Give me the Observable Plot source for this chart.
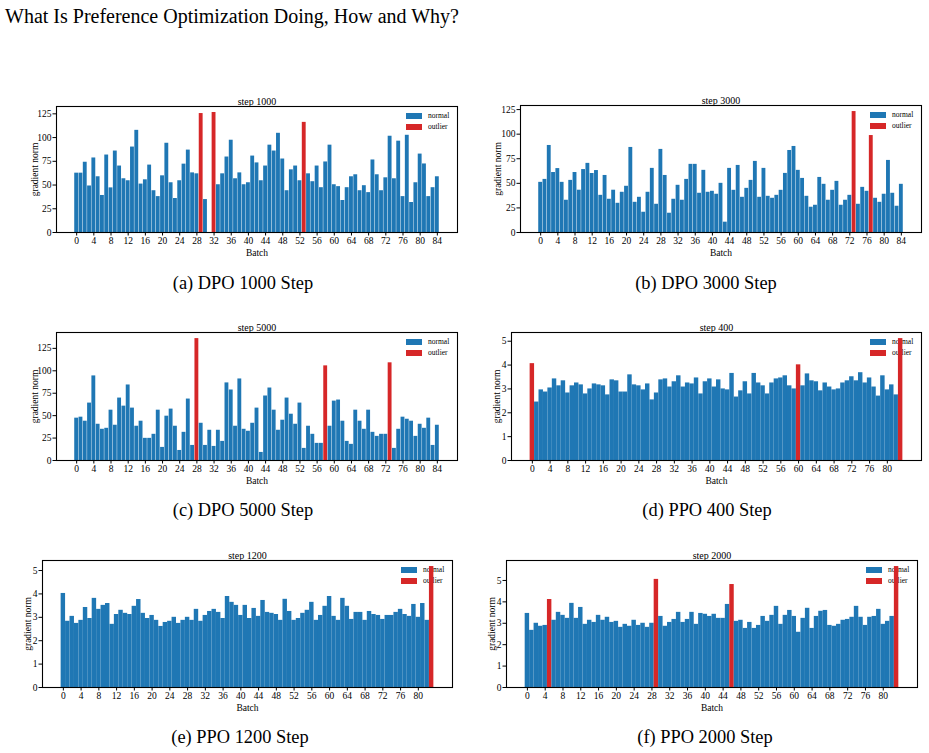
<!DOCTYPE html>
<html><head><meta charset="utf-8">
<script src="https://cdn.jsdelivr.net/npm/d3@7"></script>
<script src="https://cdn.jsdelivr.net/npm/@observablehq/plot@0.6"></script>
<style>
html,body{margin:0;padding:0;background:#fff;}
#root{position:relative;width:929px;height:753px;font-family:"Liberation Serif","Times New Roman",serif;color:#000;overflow:hidden;}
.abs{position:absolute;white-space:nowrap;line-height:1;}
.ctr{transform:translate(-50%,-50%);}
.patch{position:absolute;width:16px;height:6px;}
.legtxt{position:absolute;font-size:7.5px;line-height:1;transform:translateY(-50%);white-space:nowrap;}
</style></head>
<body><div id="root"></div>
<script>
// ---------- data ----------
const pageTitle = "What Is Preference Optimization Doing, How and Why?";
const seriesNames = ["normal", "outlier"];
const seriesColors = ["#1f77b4", "#d62728"];
const dpoXTicks = [0,4,8,12,16,20,24,28,32,36,40,44,48,52,56,60,64,68,72,76,80,84];
const ppoXTicks = [0,4,8,12,16,20,24,28,32,36,40,44,48,52,56,60,64,68,72,76,80];
const dpoYTicks = [0,25,50,75,100,125];
const ppoYTicks = [0,1,2,3,4,5];

const dpo1000 = [62.5,62.5,74,49,78.5,58.7,39,81.6,47,85.8,70,56.6,54.5,90,107.6,51,55.5,71,44,37.8,
  59.7,94,52.4,35.8,54.5,72,86.8,62.8,61.8,125.3,34.7,0,126.4,50.3,61.8,79.5,97.2,56.6,62.8,50.3,
  52.4,80.5,73.3,54.5,70,92,85.8,104.5,77.4,44,66,70,54.5,116,61.8,53.5,70,47.2,74.3,92,
  50.3,48.3,33.7,47.2,58.7,60.8,44,49.3,42,76.4,60.8,44,57.6,101.4,56.6,96.2,37.8,102.4,31.6,52.4,
  82.6,72.2,37.8,47.2,58.7];
const dpo1000Outliers = [29,32,53];

const dpo3000 = [51,54,88.5,61,65,51,32.8,53,61,43,64,70.3,60,63,37.8,58,33.8,43,29.7,40.9,
  47,86.5,30.7,35.8,20.6,40.9,65.2,28.7,84.5,58,19.6,33.8,48,32.8,54,69.3,69.3,39.9,63.2,40.9,
  41.9,38.9,50,10.5,65.2,42.9,68.2,35.8,44.9,53,72.3,35.8,65.2,36.8,34.8,37.8,42.9,60.1,83.4,87.5,
  63.2,55,36.8,25.7,27.7,56,49,32.8,42.9,52,27.7,32.8,37.8,123,28.7,45.9,41.9,98.6,34.8,30.7,
  38.9,73.3,39.9,26.7,49];
const dpo3000Outliers = [73,77];

const dpo5000 = [47.2,48.3,43.8,64,94.3,40.4,34.8,35.9,56.1,39.3,69.6,60.6,84.2,58.4,38.2,43.8,24.7,24.7,29.2,56.1,
  14.6,49.4,57.3,38.2,11.2,31.4,68.5,16.8,135.9,41.5,16.8,33.7,15.7,33.7,21.3,86.5,78.6,38.2,90.9,34.8,
  32.6,41.5,58.4,9,71.9,80.8,56.1,33.7,44.9,69.6,51.6,40.4,64,13.5,38.2,29.2,19.1,19.1,105.5,38.2,
  66.2,67.4,43.8,21.3,18,56.1,43.8,34.8,56.1,31.4,26.9,29.2,29.2,108.9,13.5,34.8,48.3,46,43.8,26.9,
  40.4,35.9,47.2,16.8,39.3];
const dpo5000Outliers = [28,58,73];

const ppo400 = [4.06,2.45,2.96,2.87,3.04,3.42,3.13,3.34,2.83,3.13,3.25,3.17,2.79,3.0,3.21,3.17,3.13,2.75,3.38,3.34,
  2.87,2.87,3.59,3.17,3.13,2.96,3.21,2.54,2.83,3.38,3.42,3.08,3.30,3.55,3.08,3.25,3.21,3.46,2.79,3.30,
  3.42,3.08,3.38,3.0,2.96,3.65,2.66,2.92,3.30,2.79,3.65,3.25,3.13,2.79,3.25,3.42,3.46,3.55,3.13,3.0,
  4.01,3.13,3.63,3.34,3.30,2.92,3.25,3.08,2.96,3.0,3.25,3.34,3.51,3.34,3.68,3.25,3.46,3.08,2.70,3.55,
  2.96,3.17,2.75,5.11];
const ppo400Outliers = [0,60,83];

const ppo1200 = [4.02,2.83,3.04,2.74,2.87,3.42,2.95,3.81,3.34,3.51,3.59,2.70,3.12,3.30,3.17,3.12,3.47,3.76,3.17,2.95,
  3.08,2.87,2.61,2.78,2.83,3.0,2.74,2.87,3.0,2.87,3.34,2.83,3.08,3.25,3.34,3.21,2.95,3.89,3.64,3.51,
  3.08,3.51,2.95,3.38,3.04,3.72,3.21,3.17,3.12,2.87,3.77,3.25,2.87,2.95,3.17,3.30,3.64,2.87,3.08,3.47,
  3.89,3.04,2.87,3.81,3.47,2.91,3.21,3.21,2.87,3.25,3.12,3.08,2.91,3.08,3.08,3.21,3.34,3.12,3.04,3.55,
  3.0,3.59,2.87,5.17];
const ppo1200Outliers = [83];

const ppo2000 = [3.46,2.67,3.0,2.86,2.90,4.11,3.14,3.51,3.37,3.23,3.93,3.23,3.74,2.95,3.14,3.04,3.37,3.14,3.28,3.04,
  3.09,2.81,2.95,2.86,3.14,2.90,3.0,2.81,3.0,5.05,3.32,2.86,3.04,3.18,3.51,3.04,3.18,3.51,2.95,3.46,
  3.42,3.32,3.42,3.23,3.23,3.88,4.81,3.09,3.14,2.76,3.04,2.76,2.90,3.32,3.09,3.37,3.79,2.95,3.37,3.60,
  3.32,2.58,3.23,3.70,2.76,3.32,3.56,3.60,2.90,2.86,2.95,3.14,3.18,3.28,3.79,3.28,2.90,3.28,3.32,3.65,
  2.95,3.09,3.32,5.65];
const ppo2000Outliers = [5,29,46,83];

// ---------- layout ----------
const panels = [
  {title:"step 1000", caption:"(a) DPO 1000 Step", values:dpo1000, outliers:dpo1000Outliers, xTicks:dpoXTicks, yTicks:dpoYTicks, barWidth:0.9, frame:[56,106,457,232], ylabDx:-22, cap:[243,283]},
  {title:"step 3000", caption:"(b) DPO 3000 Step", values:dpo3000, outliers:dpo3000Outliers, xTicks:dpoXTicks, yTicks:dpoYTicks, barWidth:0.9, frame:[520,105,921,232], ylabDx:-23, cap:[706,283]},
  {title:"step 5000", caption:"(c) DPO 5000 Step", values:dpo5000, outliers:dpo5000Outliers, xTicks:dpoXTicks, yTicks:dpoYTicks, barWidth:0.9, frame:[56,332,457,460], ylabDx:-22, cap:[243,510]},
  {title:"step 400", caption:"(d) PPO 400 Step", values:ppo400, outliers:ppo400Outliers, xTicks:ppoXTicks, yTicks:ppoYTicks, barWidth:1.0, frame:[511,332,921,460], ylabDx:-15, cap:[707,510]},
  {title:"step 1200", caption:"(e) PPO 1200 Step", values:ppo1200, outliers:ppo1200Outliers, xTicks:ppoXTicks, yTicks:ppoYTicks, barWidth:1.0, frame:[42,560,452,687], ylabDx:-14.5, cap:[240,737]},
  {title:"step 2000", caption:"(f) PPO 2000 Step", values:ppo2000, outliers:ppo2000Outliers, xTicks:ppoXTicks, yTicks:ppoYTicks, barWidth:1.0, frame:[506,560,917,687], ylabDx:-15, cap:[705,737]}
];

const root = document.getElementById("root");
function div(cls, text, css) {
  const el = document.createElement("div");
  el.className = cls;
  if (text != null) el.textContent = text;
  Object.assign(el.style, css);
  root.appendChild(el);
  return el;
}

div("abs", pageTitle, {left:"5px", top:"6px", fontSize:"20px"});

for (const p of panels) {
  const [L,T,R,B] = p.frame;
  const w = p.barWidth;
  const rows = p.values.map((v,i) => ({batch:i, value:v, kind: p.outliers.includes(i) ? "outlier" : "normal"}));
  const lo = -w/2, hi = p.values.length - 1 + w/2, pad = (hi - lo) * 0.05;
  const ymax = d3.max(p.values) * 1.05;

  // legend (drawn beneath the bars)
  seriesNames.forEach((name, k) => {
    const cy = T + 9.5 + k * 11;
    div("patch", null, {left:(R-51)+"px", top:(cy-3)+"px", background:seriesColors[k]});
    div("legtxt", name, {left:(R-29)+"px", top:cy+"px"});
  });

  const mL = 45, mT = 20, mR = 12, mB = 30;
  const chart = Plot.plot({
    width: R - L + mL + mR,
    height: B - T + mT + mB,
    marginLeft: mL, marginTop: mT, marginRight: mR, marginBottom: mB,
    style: {background:"transparent", fontFamily:"Liberation Serif, serif", fontSize:"9.5px", color:"#000", overflow:"visible"},
    x: {domain:[lo - pad, hi + pad], ticks:p.xTicks, tickFormat:d3.format("d"), tickSize:3.5, tickPadding:1, label:null},
    y: {domain:[0, ymax], ticks:p.yTicks, tickFormat:d3.format("d"), tickSize:3.5, tickPadding:1.5, label:null},
    color: {domain:seriesNames, range:seriesColors},
    marks: [
      Plot.rectY(rows, {x1: d => d.batch - w/2, x2: d => d.batch + w/2, y: "value", fill: "kind", inset: 0}),
      Plot.frame({stroke:"#000", strokeWidth:1.1}),
      Plot.text([p.title], {frameAnchor:"top", lineAnchor:"bottom", dy:-2, fontSize:10}),
      Plot.text(["Batch"], {frameAnchor:"bottom", textAnchor:"middle", lineAnchor:"middle", dy:20, fontSize:9.5}),
      Plot.text(["gradient norm"], {frameAnchor:"left", textAnchor:"middle", lineAnchor:"middle", rotate:-90, dx:p.ylabDx, fontSize:9.5})
    ]
  });
  chart.style.position = "absolute";
  chart.style.left = (L - mL) + "px";
  chart.style.top = (T - mT) + "px";
  root.appendChild(chart);

  div("abs ctr", p.caption, {left:p.cap[0]+"px", top:p.cap[1]+"px", fontSize:"18.4px"});
}
</script>
</body></html>
